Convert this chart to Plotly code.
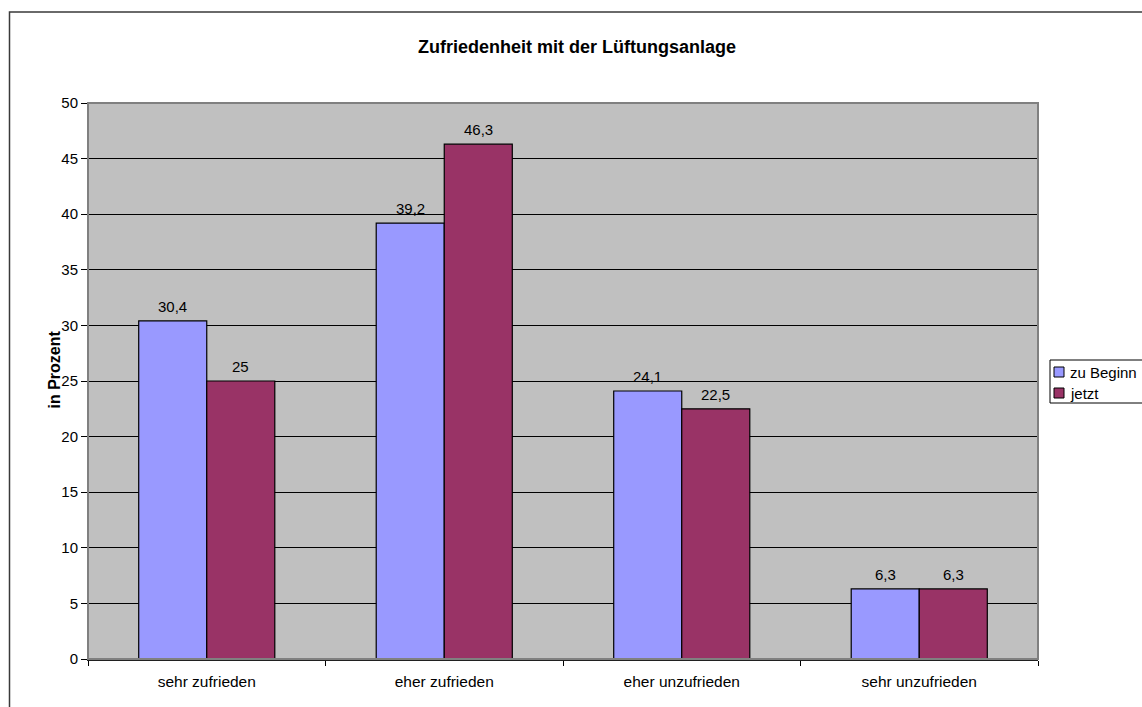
import plotly.graph_objects as go

# Zufriedenheit mit der Lüftungsanlage – Anteile in Prozent
categories = ["sehr zufrieden", "eher zufrieden", "eher unzufrieden", "sehr unzufrieden"]
series_names = ["zu Beginn", "jetzt"]
series_colors = ["#9999FF", "#993366"]
zu_beginn = [30.4, 39.2, 24.1, 6.3]
jetzt = [25.0, 46.3, 22.5, 6.3]
y_ticks = list(range(0, 55, 5))

FONT = "Liberation Sans, Arial, sans-serif"
W, H = 1142, 707
ML, MR, MT, MB = 88, 104, 103, 48
PW, PH = W - ML - MR, H - MT - MB


def px_x(x):
    """pixel column -> paper x"""
    return (x - ML) / PW


def px_y(y):
    """pixel row (from top) -> paper y"""
    return (H - MB - y) / PH


def de_label(v):
    return f"{v:g}".replace(".", ",")


fig = go.Figure()
for name, vals, col in zip(series_names, (zu_beginn, jetzt), series_colors):
    fig.add_trace(go.Bar(
        name=name, x=categories, y=vals, showlegend=False,
        marker=dict(color=col, line=dict(color="black", width=1.2)),
    ))

# value labels above each bar
group_w = PW / len(categories) * (1 - 0.427)
half = group_w / 4
annotations = []
for vals, dx in ((zu_beginn, -half), (jetzt, half)):
    for c, v in zip(categories, vals):
        annotations.append(dict(
            x=c, y=v, xref="x", yref="y", text=de_label(v), showarrow=False,
            xshift=dx, yshift=4, yanchor="bottom",
            font=dict(family=FONT, size=15, color="black"),
        ))

# y axis title
annotations.append(dict(
    x=px_x(43), y=px_y(370), xref="paper", yref="paper", text="<b>in Prozent</b>",
    textangle=-90, showarrow=False, font=dict(family=FONT, size=16, color="black"),
))

shapes = [
    # chart frame
    dict(type="rect", xref="paper", yref="paper",
         x0=px_x(9.5), x1=1.3, y0=-0.3, y1=px_y(12),
         line=dict(color="#3a3a3a", width=1.5), layer="below"),
    # plot area frame
    dict(type="rect", xref="paper", yref="paper", x0=0, x1=1, y0=0, y1=1,
         line=dict(color="#808080", width=2), layer="above"),
    # legend box
    dict(type="rect", xref="paper", yref="paper",
         x0=px_x(1050), x1=px_x(1160), y0=px_y(403), y1=px_y(360),
         line=dict(color="black", width=1), fillcolor="white", layer="above"),
]

# legend entries
for i, (name, col) in enumerate(zip(series_names, series_colors)):
    cy = 372 + 21 * i
    shapes.append(dict(type="rect", xref="paper", yref="paper",
                       x0=px_x(1054), x1=px_x(1064), y0=px_y(cy + 5), y1=px_y(cy - 5),
                       line=dict(color="black", width=1), fillcolor=col, layer="above"))
    annotations.append(dict(x=px_x(1068), y=px_y(cy), xref="paper", yref="paper",
                            text=name, showarrow=False, xanchor="left", yanchor="middle",
                            font=dict(family=FONT, size=15, color="black")))

fig.update_layout(
    width=W, height=H,
    margin=dict(l=ML, r=MR, t=MT, b=MB, autoexpand=False),
    paper_bgcolor="white", plot_bgcolor="#C0C0C0",
    barmode="group", bargap=0.427, bargroupgap=0,
    showlegend=False,
    title=dict(text="<b>Zufriedenheit mit der Lüftungsanlage</b>",
               x=577 / W, xref="container", xanchor="center",
               y=1 - 47 / H, yref="container", yanchor="middle",
               font=dict(family=FONT, size=18, color="black")),
    font=dict(family=FONT, size=15, color="black"),
    xaxis=dict(type="category", showgrid=False, showline=True, linecolor="#202020", linewidth=2,
               ticks="outside", tickson="boundaries", ticklen=5, tickcolor="black",
               ticklabelstandoff=7,
               tickfont=dict(family=FONT, size=15.5, color="black"), fixedrange=True),
    yaxis=dict(range=[0, 50], tickvals=y_ticks, showgrid=True, gridcolor="black", gridwidth=1,
               showline=True, linecolor="black", linewidth=1, zeroline=False,
               ticks="outside", ticklen=6, tickcolor="black",
               tickfont=dict(family=FONT, size=15, color="black")),
    annotations=annotations, shapes=shapes,
)

fig.write_html("out.html")
